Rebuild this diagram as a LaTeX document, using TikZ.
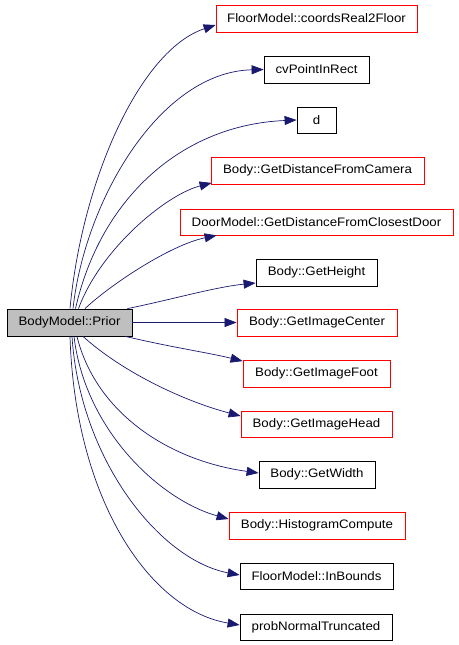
\documentclass[tikz,border=0pt]{standalone}
\usepackage{fontspec}
\setmainfont{Liberation Sans}[FakeStretch=1.08]
\usetikzlibrary{arrows.meta}
\definecolor{edgeblue}{HTML}{191970}
\definecolor{mainfill}{HTML}{BFBFBF}
\tikzset{
  fn/.style={draw=black, line width=0.8pt, inner sep=0pt, font=\fontsize{12.3}{14}\selectfont, anchor=center},
  redfn/.style={fn, draw=red},
  mainfn/.style={fn, fill=mainfill},
  edge/.style={draw=edgeblue, line width=0.7pt, -{Triangle[length=12pt,width=9pt]}}
}
\begin{document}
\begin{tikzpicture}[x=1pt,y=-1pt]
\useasboundingbox (0,0) rectangle (458,645);
\node[mainfn, minimum width=125pt, minimum height=27pt] (main) at (69.5,322.5) {BodyModel::Prior};
\node[redfn, minimum width=201pt, minimum height=27pt] (n1) at (316.5,18.5) {FloorModel::coordsReal2Floor};
\node[fn, minimum width=105pt, minimum height=27pt] (n2) at (316.5,69.5) {cvPointInRect};
\node[fn, minimum width=39pt, minimum height=26pt] (n3) at (316.5,120) {d};
\node[redfn, minimum width=213pt, minimum height=27pt] (n4) at (317.5,170.5) {Body::GetDistanceFromCamera};
\node[redfn, minimum width=273pt, minimum height=26pt] (n5) at (316.5,222) {DoorModel::GetDistanceFromClosestDoor};
\node[fn, minimum width=121pt, minimum height=27pt] (n6) at (316.5,272.5) {Body::GetHeight};
\node[redfn, minimum width=160pt, minimum height=27pt] (n7) at (317,322.5) {Body::GetImageCenter};
\node[redfn, minimum width=147pt, minimum height=27pt] (n8) at (316.5,373.5) {Body::GetImageFoot};
\node[redfn, minimum width=151pt, minimum height=26pt] (n9) at (316.5,424) {Body::GetImageHead};
\node[fn, minimum width=116pt, minimum height=27pt] (n10) at (317,474.5) {Body::GetWidth};
\node[redfn, minimum width=176pt, minimum height=27pt] (n11) at (317,525.5) {Body::HistogramCompute};
\node[fn, minimum width=153pt, minimum height=26pt] (n12) at (316.5,576) {FloorModel::InBounds};
\node[fn, minimum width=152pt, minimum height=26pt] (n13) at (316,627) {probNormalTruncated};

\draw[edge] ([xshift=0.5pt]main.north) .. controls (82,180) and (140,50) .. ([yshift=-6.5pt]n1.west);
\draw[edge] ([xshift=3.5pt]main.north) .. controls (85,200) and (160,72) .. (n2.west);
\draw[edge] ([xshift=6pt]main.north) .. controls (100,200) and (180,125) .. (n3.west);
\draw[edge] ([xshift=9pt]main.north) .. controls (100,250) and (165,195) .. ([xshift=1pt,yshift=1.5pt]n4.south west);
\draw[edge] ([xshift=15.5pt]main.north) .. controls (110,285) and (170,245) .. ([xshift=37pt]n5.south west);
\draw[edge] ([xshift=-5pt]main.north east) .. controls (170,300) and (215,287) .. ([yshift=-10.5pt]n6.west);
\draw[edge] (main.east) -- (n7.west);
\draw[edge] ([xshift=-7pt]main.south east) .. controls (170,347) and (210,353) .. ([yshift=-1.5pt]n8.north west);
\draw[edge] ([xshift=13.5pt]main.south) .. controls (120,370) and (180,400) .. ([yshift=8pt]n9.west);
\draw[edge] ([xshift=7.5pt]main.south) .. controls (95,410) and (165,460) .. ([yshift=1.5pt]n10.west);
\draw[edge] ([xshift=4.5pt]main.south) .. controls (85,430) and (160,500) .. ([yshift=6.5pt]n11.west);
\draw[edge] ([xshift=2.5pt]main.south) .. controls (80,460) and (160,560) .. ([yshift=1pt]n12.west);
\draw[edge] ([xshift=0.5pt]main.south) .. controls (75,500) and (150,610) .. ([yshift=2pt]n13.west);
\end{tikzpicture}
\end{document}
